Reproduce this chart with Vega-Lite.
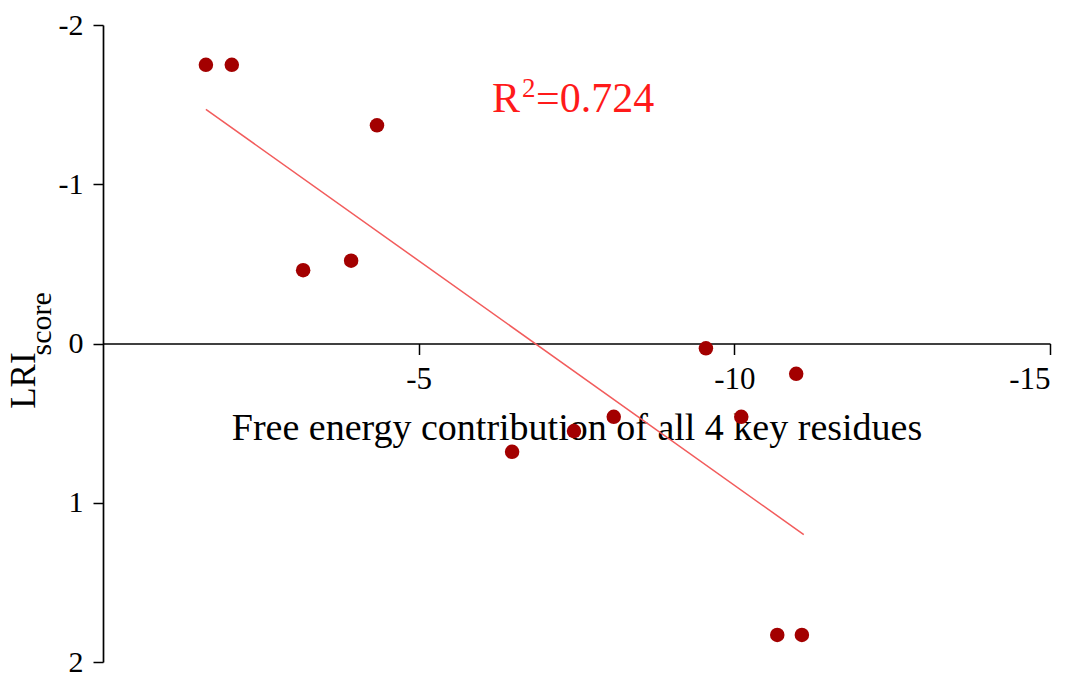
{
  "$schema": "https://vega.github.io/schema/vega-lite/v6.json",
  "width": 947,
  "height": 637,
  "autosize": "none",
  "padding": {"left": 103, "top": 25, "right": 27, "bottom": 15},
  "background": "white",
  "config": {"view": {"stroke": null}, "font": "Liberation Serif"},
  "datasets": {
    "points": [
      {"energy": -1.63, "lri": -1.75},
      {"energy": -2.04, "lri": -1.75},
      {"energy": -4.34, "lri": -1.37},
      {"energy": -3.17, "lri": -0.46},
      {"energy": -3.93, "lri": -0.52},
      {"energy": -9.55, "lri": 0.03},
      {"energy": -10.98, "lri": 0.19},
      {"energy": -6.48, "lri": 0.68},
      {"energy": -7.46, "lri": 0.55},
      {"energy": -8.09, "lri": 0.46},
      {"energy": -10.11, "lri": 0.46},
      {"energy": -10.68, "lri": 1.83},
      {"energy": -11.07, "lri": 1.83}
    ],
    "fit": [
      {"energy": -1.63, "lri": -1.47},
      {"energy": -11.1, "lri": 1.2}
    ]
  },
  "layer": [
    {
      "data": {"name": "fit"},
      "mark": {"type": "line", "color": "#f25c5c", "strokeWidth": 1.5},
      "encoding": {
        "x": {
          "field": "energy", "type": "quantitative",
          "scale": {"domain": [0, -15], "nice": false, "zero": false},
          "axis": {
            "values": [-5, -10, -15],
            "labelExpr": "'' + datum.value",
            "offset": -318.5,
            "grid": false,
            "title": "Free energy contribution of all 4 key residues",
            "titleFont": "Liberation Serif",
            "titleFontSize": 38,
            "titleFontWeight": "normal",
            "titleColor": "black",
            "titlePadding": 15,
            "labelFont": "Liberation Serif",
            "labelFontSize": 31,
            "labelColor": "black",
            "labelPadding": 10,
            "tickSize": 11,
            "tickWidth": 1.5,
            "tickColor": "black",
            "domainColor": "black",
            "domainWidth": 1.7
          }
        },
        "y": {
          "field": "lri", "type": "quantitative",
          "scale": {"domain": [-2, 2], "reverse": true, "nice": false, "zero": false},
          "axis": {
            "values": [-2, -1, 0, 1, 2],
            "labelExpr": "'' + datum.value",
            "grid": false,
            "title": null,
            "labelFont": "Liberation Serif",
            "labelFontSize": 30,
            "labelColor": "black",
            "labelPadding": 10,
            "tickSize": 10,
            "tickWidth": 1.5,
            "tickColor": "black",
            "domainColor": "black",
            "domainWidth": 1.7
          }
        }
      }
    },
    {
      "data": {"name": "points"},
      "mark": {"type": "circle", "color": "#a30000", "opacity": 1, "size": 210},
      "encoding": {
        "x": {"field": "energy", "type": "quantitative"},
        "y": {"field": "lri", "type": "quantitative"}
      }
    },
    {
      "data": {"values": [{"label": "R"}]},
      "mark": {"type": "text", "color": "#ff1a1a", "fontSize": 42, "font": "Liberation Serif", "align": "left", "baseline": "alphabetic"},
      "encoding": {
        "x": {"datum": -6.16, "type": "quantitative"},
        "y": {"datum": -1.452, "type": "quantitative"},
        "text": {"field": "label"}
      }
    },
    {
      "data": {"values": [{"label": "2"}]},
      "mark": {"type": "text", "color": "#ff1a1a", "fontSize": 27, "font": "Liberation Serif", "align": "left", "baseline": "alphabetic"},
      "encoding": {
        "x": {"datum": -6.637, "type": "quantitative"},
        "y": {"datum": -1.546, "type": "quantitative"},
        "text": {"field": "label"}
      }
    },
    {
      "data": {"values": [{"label": "=0.724"}]},
      "mark": {"type": "text", "color": "#ff1a1a", "fontSize": 42, "font": "Liberation Serif", "align": "left", "baseline": "alphabetic"},
      "encoding": {
        "x": {"datum": -6.86, "type": "quantitative"},
        "y": {"datum": -1.452, "type": "quantitative"},
        "text": {"field": "label"}
      }
    },
    {
      "data": {"values": [{"label": "LRI"}]},
      "mark": {"type": "text", "color": "black", "fontSize": 35, "font": "Liberation Serif", "align": "left", "baseline": "alphabetic", "angle": 270},
      "encoding": {
        "x": {"datum": 1.077, "type": "quantitative"},
        "y": {"datum": 0.41, "type": "quantitative"},
        "text": {"field": "label"}
      }
    },
    {
      "data": {"values": [{"label": "score"}]},
      "mark": {"type": "text", "color": "black", "fontSize": 30, "font": "Liberation Serif", "align": "left", "baseline": "alphabetic", "angle": 270},
      "encoding": {
        "x": {"datum": 0.82, "type": "quantitative"},
        "y": {"datum": 0.075, "type": "quantitative"},
        "text": {"field": "label"}
      }
    }
  ]
}
